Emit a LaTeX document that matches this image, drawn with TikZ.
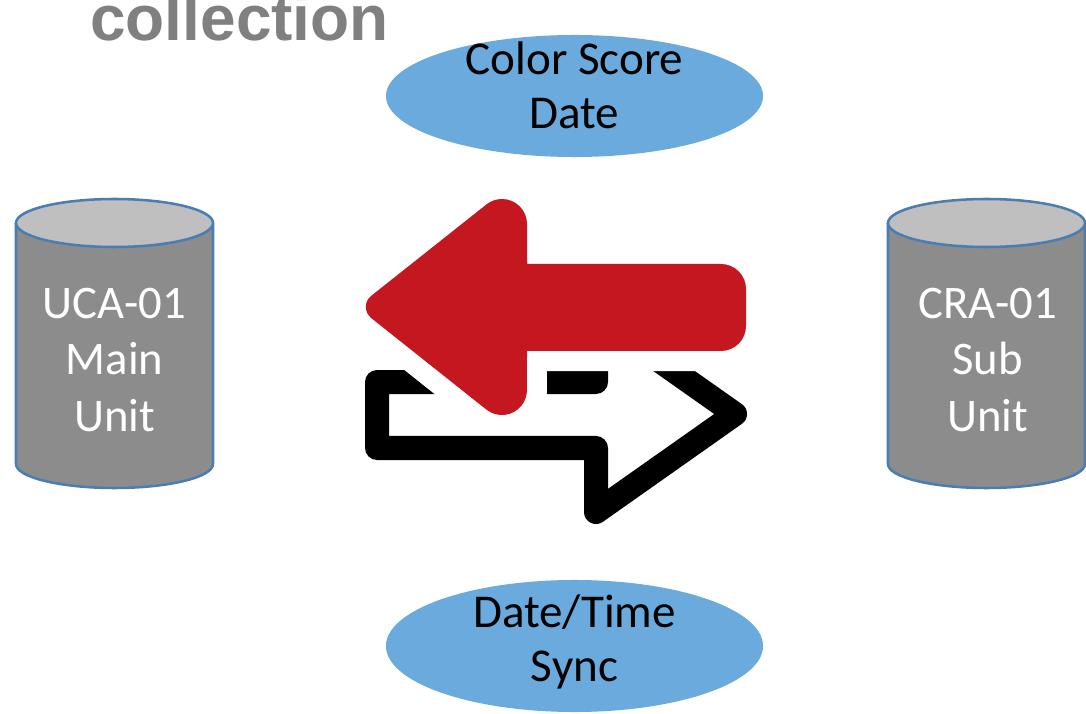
\documentclass[tikz,border=0pt]{standalone}
\usepackage{fontspec}
\setmainfont{Carlito}
\newfontfamily\headfont{Liberation Sans}
\usetikzlibrary{shapes.geometric}

\definecolor{unitbody}{HTML}{8C8C8C}
\definecolor{unittop}{HTML}{BFBFBF}
\definecolor{unitedge}{HTML}{4A7EB3}
\definecolor{bubblefill}{HTML}{6AAADC}
\definecolor{sendred}{HTML}{C4171F}
\definecolor{headgray}{HTML}{808080}

\begin{document}
\begin{tikzpicture}[x=0.025cm,y=-0.025cm,
    unit/.style={fill=unitbody,draw=unitedge,line width=1.8pt},
    unitlid/.style={fill=unittop,draw=unitedge,line width=1.8pt},
    unitlabel/.style={text=white,align=center,inner sep=0pt,font=\fontsize{33.2}{40.5}\selectfont},
    bubble/.style={ellipse,fill=bubblefill,minimum width=9.425cm,inner sep=0pt},
    bubblelabel/.style={align=center,inner sep=0pt,font=\fontsize{33.5}{38.5}\selectfont}]
  \useasboundingbox (0,0) rectangle (1086,714);

  \node[anchor=base west,inner sep=0pt,text=headgray,font=\fontsize{45.5}{50}\selectfont\headfont\bfseries] (title) at (90,41) {collection};

  % main unit
  \draw[unit] (16,223) -- (16,464) arc[start angle=180,end angle=0,x radius=98.5,y radius=24] -- (213,223);
  \draw[unitlid] (114.5,223) ellipse[x radius=98.5,y radius=24];
  \node[unitlabel] (main) at (114.5,360) {UCA-01\\Main\\Unit};

  % sub unit
  \draw[unit] (888,223) -- (888,464) arc[start angle=180,end angle=0,x radius=98.5,y radius=24] -- (1085,223);
  \draw[unitlid] (986.5,223) ellipse[x radius=98.5,y radius=24];
  \node[unitlabel] (sub) at (987.5,360) {CRA-01\\Sub\\Unit};

  % data bubbles
  \node[bubble,minimum height=3.05cm] (score) at (574.5,96) {};
  \node[bubblelabel] (scoretext) at (574.5,85) {Color Score\\Date};
  \node[bubble,minimum height=3.3cm] (sync) at (574.5,646) {};
  \node[bubblelabel] (synctext) at (574.5,642) {Date/Time\\Sync};

  % outline arrow
  \begin{scope}
    \clip (300,371) rectangle (800,560);
    \draw[line width=0.6cm,line join=round] (377,382) -- (596,382) -- (596,316) -- (735,414) -- (596,512) -- (596,448) -- (377,448) -- cycle;
  \end{scope}

  % red arrow
  \fill[sendred,preaction={draw=white,line width=1.0cm,line join=round}] (527,264) -- (527,224)
    arc[start angle=0,end angle=-128.5,radius=25] -- (371,296)
    arc[start angle=231.5,end angle=128.5,radius=14] -- (486.4,409.6)
    arc[start angle=128.5,end angle=0,radius=25] -- (527,351) -- (721,351)
    arc[start angle=90,end angle=0,radius=25] -- (746,289)
    arc[start angle=0,end angle=-90,radius=25] -- cycle;
\end{tikzpicture}
\end{document}
